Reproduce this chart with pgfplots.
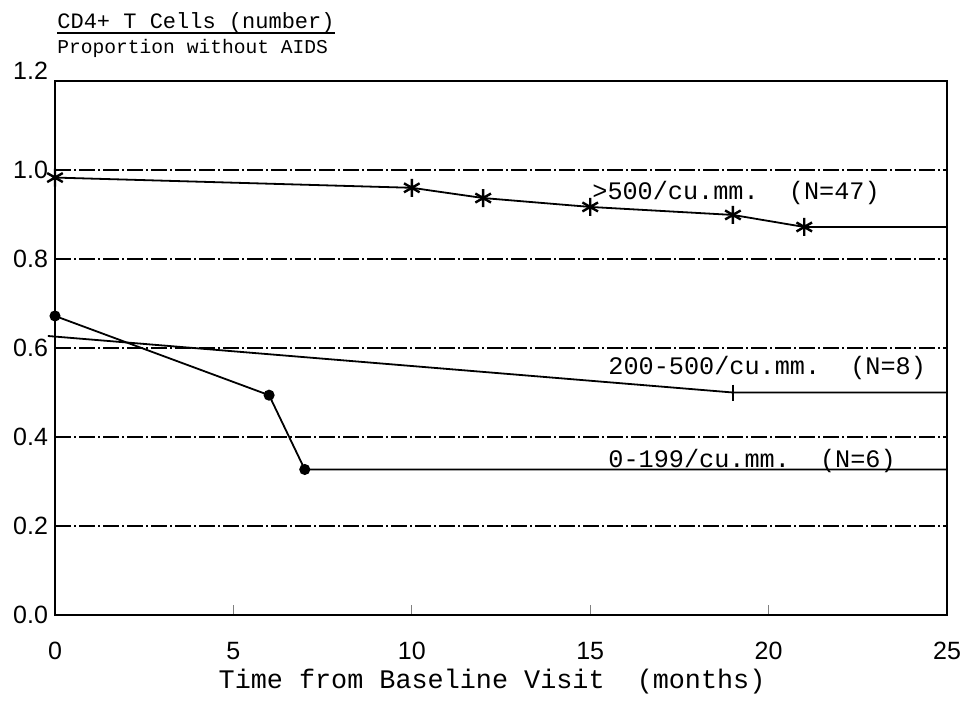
\documentclass[border=0pt]{standalone}
\usepackage{fontspec}
\usepackage{pgfplots}
\pgfplotsset{compat=1.18}
\setmainfont{Liberation Mono}
\newfontfamily\ticksf{Liberation Sans}
\frenchspacing

\begin{document}
\begin{tikzpicture}
\begin{axis}[
  name=ax,
  scale only axis, width=446pt, height=267pt,
  xmin=0, xmax=25, ymin=0, ymax=1.2,
  clip=false,
  axis line style={line width=0.8pt},
  xtick={0,5,...,25}, ytick={0,0.2,...,1.0},
  xtick pos=bottom,
  extra y ticks={1.2},
  extra y tick style={grid=none, yticklabel style={yshift=5pt}},
  ymajorgrids,
  grid style={black, line width=0.55pt, dash pattern=on 8pt off 1.5pt on 1pt off 1.5pt},
  tick align=inside, major tick length=5pt,
  ytick style={draw=none}, xtick style={line width=0.6pt},
  tick label style={font=\ticksf\fontsize{12.5}{14}\selectfont},
  /pgf/number format/assume math mode=true,
  yticklabel style={/pgf/number format/fixed, /pgf/number format/fixed zerofill,
    /pgf/number format/precision=1},
  xticklabel style={yshift=-10pt},
  xlabel={Time from Baseline Visit\ \ (months)},
  xlabel style={at={(rel axis cs:0.49,0)}, anchor=center, yshift=-33.5pt,
    font=\fontsize{13.4}{15}\selectfont},
]
% >500/cu.mm.
\addplot[black, line width=0.9pt, mark=asterisk, mark size=4.5pt, mark indices={1,...,6},
  mark options={line width=1.2pt}]
  coordinates {(0,0.983)(10,0.960)(12,0.937)(15,0.917)(19,0.899)(21,0.872)(25,0.872)};
% 200-500/cu.mm.
\addplot[black, line width=0.9pt, no marks]
  coordinates {(-0.2,0.627)(19,0.500)(25,0.500)};
\addplot[black, only marks, mark=+, mark size=4pt, mark options={line width=0.9pt}]
  coordinates {(19,0.500)};
% 0-199/cu.mm.
\addplot[black, line width=0.9pt, mark=*, mark size=2.3pt, mark indices={1,2,3}]
  coordinates {(0,0.672)(6,0.494)(7,0.327)(25,0.327)};

\node[anchor=west, inner sep=0, font=\fontsize{12.6}{14}\selectfont]
  at (axis cs:15.05,0.948) {>500/cu.mm.\ \ (N=47)};
\node[anchor=west, inner sep=0, font=\fontsize{12.6}{14}\selectfont]
  at (axis cs:15.5,0.555) {200-500/cu.mm.\ \ (N=8)};
\node[anchor=west, inner sep=0, font=\fontsize{12.6}{14}\selectfont]
  at (axis cs:15.5,0.346) {0-199/cu.mm.\ \ (N=6)};

\node[name=ttl, anchor=west, inner sep=0, font=\fontsize{11}{13}\selectfont]
  at (rel axis cs:0,1) [xshift=1pt, yshift=29pt] {CD4+ T Cells (number)};
\draw[line width=0.7pt] ([yshift=0.3pt]ttl.south west) -- ([yshift=0.3pt]ttl.south east);
\node[anchor=west, inner sep=0, font=\fontsize{9.8}{12}\selectfont]
  at (rel axis cs:0,1) [xshift=1pt, yshift=16.5pt] {Proportion without AIDS};
\end{axis}
\pgfresetboundingbox
\path ([shift={(-27.5pt,-44pt)}]ax.south west) rectangle ([shift={(9pt,40.5pt)}]ax.north east);
\end{tikzpicture}
\end{document}
